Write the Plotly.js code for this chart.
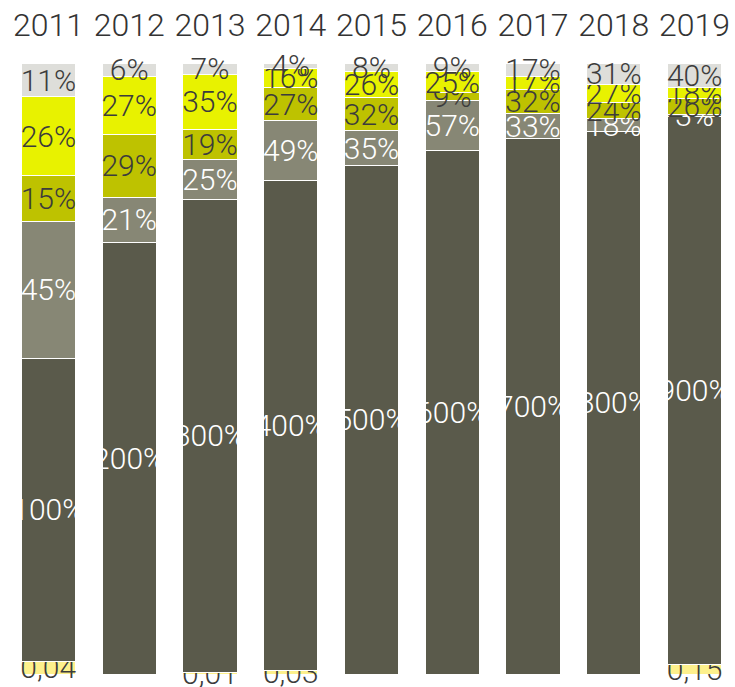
<!DOCTYPE html>
<html>
<head>
<meta charset="utf-8">
<script src="https://cdn.plot.ly/plotly-3.0.1.min.js"></script>
<style>html,body{margin:0;padding:0;background:#fff;}#chart{width:735px;height:687px;}</style>
</head>
<body>
<div id="chart"></div>
<script>
const years = ['2011','2012','2013','2014','2015','2016','2017','2018','2019'];
const baseValues   = [0.04, 0, 0.01, 0.03, 0, 0, 0, 0, 0.15];
const darkValues   = [1, 2, 3, 4, 5, 6, 7, 8, 9];
const grayValues   = [0.45, 0.21, 0.25, 0.49, 0.35, 0.57, 0.33, 0.18, 0.03];
const oliveValues  = [0.15, 0.29, 0.19, 0.27, 0.32, 0.09, 0.32, 0.24, 0.26];
const yellowValues = [0.26, 0.27, 0.35, 0.16, 0.26, 0.25, 0.17, 0.27, 0.18];
const lightValues  = [0.11, 0.06, 0.07, 0.04, 0.08, 0.09, 0.17, 0.31, 0.40];

const FONT = 'Roboto, "Noto Sans", sans-serif';
const pct = v => Math.round(v * 100) + '%';
const dec = v => v > 0 ? v.toFixed(2).replace('.', ',') : '';

function mk(vals, color, textColor, fmt) {
  return {
    type: 'bar', x: years, y: vals,
    text: vals.map(fmt),
    textposition: 'inside',
    insidetextanchor: 'middle',
    constraintext: 'none',
    textangle: 0,
    cliponaxis: false,
    textfont: {family: FONT, size: 30, color: textColor, weight: 300},
    marker: {color: color, line: {color: '#ffffff', width: 1}},
    hoverinfo: 'none'
  };
}

const data = [
  mk(baseValues,   '#fdf08c', '#3c3c3c', dec),
  mk(darkValues,   '#5a5a4b', '#ffffff', pct),
  mk(grayValues,   '#878775', '#ffffff', pct),
  mk(oliveValues,  '#bec200', '#3c3c3c', pct),
  mk(yellowValues, '#e8f200', '#3c3c3c', pct),
  mk(lightValues,  '#dededa', '#3c3c3c', pct)
];

const layout = {
  width: 735, height: 687,
  margin: {l: 8, r: 0, t: 63, b: 13},
  barmode: 'stack', barnorm: 'fraction', bargap: 0.33,
  showlegend: false,
  paper_bgcolor: '#ffffff', plot_bgcolor: '#ffffff',
  xaxis: {side: 'top', showgrid: false, zeroline: false, showline: false, ticks: '',
          ticklabelstandoff: 20,
          tickfont: {family: FONT, size: 32, color: '#333333', weight: 300}, fixedrange: true},
  yaxis: {visible: false, range: [0, 1.0005], fixedrange: true}
};

Plotly.newPlot('chart', data, layout, {displayModeBar: false, staticPlot: true});
</script>
</body>
</html>
